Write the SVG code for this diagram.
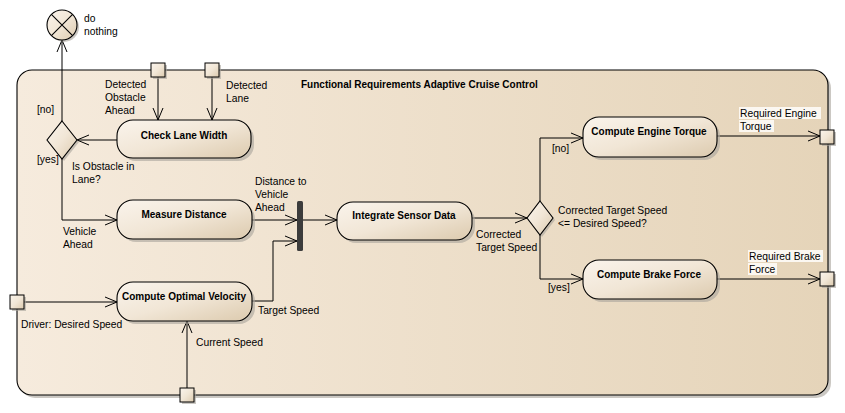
<svg xmlns="http://www.w3.org/2000/svg" width="845" height="413" viewBox="0 0 845 413">
<defs>
<linearGradient id="gFrame" x1="0" y1="0" x2="1" y2="0">
<stop offset="0" stop-color="#f6ebdd"/><stop offset="1" stop-color="#e5d4b9"/>
</linearGradient>
<linearGradient id="gNode" x1="0" y1="0" x2="1" y2="1">
<stop offset="0" stop-color="#faf4ec"/><stop offset="0.5" stop-color="#f1e6d6"/><stop offset="1" stop-color="#dccaae"/>
</linearGradient>
<marker id="arr" markerWidth="14" markerHeight="12" refX="12" refY="6" orient="auto" markerUnits="userSpaceOnUse">
<path d="M0,1 L12,6 L0,11" fill="none" stroke="#000" stroke-width="1"/>
</marker>
<style>
.lbl{font-family:"Liberation Sans",Arial,sans-serif;font-size:10.3px;fill:#000}
.nt{font-family:"Liberation Sans",Arial,sans-serif;font-size:10px;font-weight:bold;fill:#000;text-anchor:middle}
.node{fill:url(#gNode);stroke:#000;stroke-width:1.1}
.shd{fill:#a9a39b;opacity:0.6}
.pin{fill:url(#gNode);stroke:#000;stroke-width:1}
.c{fill:none;stroke:#000;stroke-width:1}
</style>
</defs>

<g id="frame">
<rect x="20" y="73" width="811" height="325" rx="15" class="shd"/>
<rect x="17" y="70" width="811" height="325" rx="15" fill="url(#gFrame)" stroke="#000" stroke-width="1.1"/>
<text x="301" y="88" class="lbl" style="font-weight:bold;font-size:10px">Functional Requirements Adaptive Cruise Control</text>
</g>

<g id="connectors">
<path class="c" d="M62,121 V40" marker-end="url(#arr)"/>
<path class="c" d="M117,140 H77" marker-end="url(#arr)"/>
<path class="c" d="M158,77 V120" marker-end="url(#arr)"/>
<path class="c" d="M212,77 V120" marker-end="url(#arr)"/>
<path class="c" d="M62,159 V220 H117" marker-end="url(#arr)"/>
<path class="c" d="M252,220 H297" marker-end="url(#arr)"/>
<path class="c" d="M252,301 H273 V241 H297" marker-end="url(#arr)"/>
<path class="c" d="M24,302 H117" marker-end="url(#arr)"/>
<path class="c" d="M187,388 V321" marker-end="url(#arr)"/>
<path class="c" d="M303,220 H337" marker-end="url(#arr)"/>
<path class="c" d="M472,218 H527" marker-end="url(#arr)"/>
<path class="c" d="M540,201 V138 H583" marker-end="url(#arr)"/>
<path class="c" d="M540,235 V279 H583" marker-end="url(#arr)"/>
<path class="c" d="M717,136 H820" marker-end="url(#arr)"/>
<path class="c" d="M717,279 H820" marker-end="url(#arr)"/>
</g>

<g id="final-do-nothing">
<circle cx="64" cy="27" r="15" class="shd"/>
<circle cx="62" cy="25" r="15" class="node"/>
<path d="M51.4,14.4 L72.6,35.6 M72.6,14.4 L51.4,35.6" stroke="#000" stroke-width="1.1"/>
<text x="84" y="22" class="lbl">do</text>
<text x="84" y="35" class="lbl">nothing</text>
</g>

<g id="decision-obstacle">
<path d="M64,123 L79,142 L64,161 L49,142 Z" class="shd"/>
<path d="M62,121 L77,140 L62,159 L47,140 Z" class="node"/>
<text x="37" y="113" class="lbl">[no]</text>
<text x="37" y="163" class="lbl">[yes]</text>
<text x="72" y="170" class="lbl">Is Obstacle in</text>
<text x="72" y="183" class="lbl">Lane?</text>
</g>

<g id="pin-obstacle">
<rect x="153" y="65" width="14" height="14" class="shd"/>
<rect x="151" y="63" width="14" height="14" class="pin"/>
<text x="105" y="88" class="lbl">Detected</text>
<text x="105" y="101" class="lbl">Obstacle</text>
<text x="105" y="114" class="lbl">Ahead</text>
</g>

<g id="pin-lane">
<rect x="207" y="65" width="14" height="14" class="shd"/>
<rect x="205" y="63" width="14" height="14" class="pin"/>
<text x="226" y="89" class="lbl">Detected</text>
<text x="226" y="102" class="lbl">Lane</text>
</g>

<g id="check-lane-width">
<rect x="120" y="123" width="134" height="38" rx="16" class="shd"/>
<rect x="117" y="120" width="134" height="38" rx="16" class="node"/>
<text x="184" y="139" class="nt">Check Lane Width</text>
</g>

<g id="measure-distance">
<rect x="120" y="203" width="135" height="39" rx="16" class="shd"/>
<rect x="117" y="200" width="135" height="39" rx="16" class="node"/>
<text x="184" y="218" class="nt">Measure Distance</text>
<text x="63" y="235" class="lbl">Vehicle</text>
<text x="63" y="248" class="lbl">Ahead</text>
</g>

<g id="compute-optimal-velocity">
<rect x="120" y="285" width="135" height="39" rx="16" class="shd"/>
<rect x="117" y="282" width="135" height="39" rx="16" class="node"/>
<text x="184" y="300" class="nt">Compute Optimal Velocity</text>
<text x="258" y="314" class="lbl">Target Speed</text>
</g>

<g id="pin-desired-speed">
<rect x="12" y="297" width="14" height="14" class="shd"/>
<rect x="10" y="295" width="14" height="14" class="pin"/>
<text x="21" y="328" class="lbl">Driver: Desired Speed</text>
</g>

<g id="pin-current-speed">
<rect x="182" y="390" width="14" height="14" class="shd"/>
<rect x="180" y="388" width="14" height="14" class="pin"/>
<text x="196" y="346" class="lbl">Current Speed</text>
</g>

<g id="join">
<rect x="297" y="201" width="6" height="50" rx="1.5" fill="#3c3c3c"/>
<text x="255" y="185" class="lbl">Distance to</text>
<text x="255" y="198" class="lbl">Vehicle</text>
<text x="255" y="211" class="lbl">Ahead</text>
</g>

<g id="integrate-sensor-data">
<rect x="340" y="205" width="135" height="38" rx="16" class="shd"/>
<rect x="337" y="202" width="135" height="38" rx="16" class="node"/>
<text x="404" y="219" class="nt">Integrate Sensor Data</text>
<text x="476" y="238" class="lbl">Corrected</text>
<text x="476" y="251" class="lbl">Target Speed</text>
</g>

<g id="decision-speed">
<path d="M542,203 L555,220 L542,237 L529,220 Z" class="shd"/>
<path d="M540,201 L553,218 L540,235 L527,218 Z" class="node"/>
<text x="558" y="214" class="lbl">Corrected Target Speed</text>
<text x="558" y="227" class="lbl">&lt;= Desired Speed?</text>
<text x="552" y="152" class="lbl">[no]</text>
<text x="548" y="291" class="lbl">[yes]</text>
</g>

<g id="compute-engine-torque">
<rect x="586" y="120" width="134" height="40" rx="16" class="shd"/>
<rect x="583" y="117" width="134" height="40" rx="16" class="node"/>
<text x="649" y="135" class="nt">Compute Engine Torque</text>
</g>

<g id="compute-brake-force">
<rect x="586" y="263" width="134" height="39" rx="16" class="shd"/>
<rect x="583" y="260" width="134" height="39" rx="16" class="node"/>
<text x="649" y="278" class="nt">Compute Brake Force</text>
</g>

<g id="pin-engine-torque">
<rect x="822" y="132" width="14" height="14" class="shd"/>
<rect x="820" y="130" width="14" height="14" class="pin"/>
<rect x="739" y="107" width="82" height="12" fill="#fbf7f1"/>
<rect x="739" y="120" width="35" height="12" fill="#fbf7f1"/>
<text x="740" y="117" class="lbl">Required Engine</text>
<text x="740" y="130" class="lbl">Torque</text>
</g>

<g id="pin-brake-force">
<rect x="822" y="274" width="14" height="14" class="shd"/>
<rect x="820" y="272" width="14" height="14" class="pin"/>
<rect x="748" y="250" width="75" height="12" fill="#fbf7f1"/>
<rect x="748" y="263" width="29" height="12" fill="#fbf7f1"/>
<text x="749" y="260" class="lbl">Required Brake</text>
<text x="749" y="273" class="lbl">Force</text>
</g>
</svg>
